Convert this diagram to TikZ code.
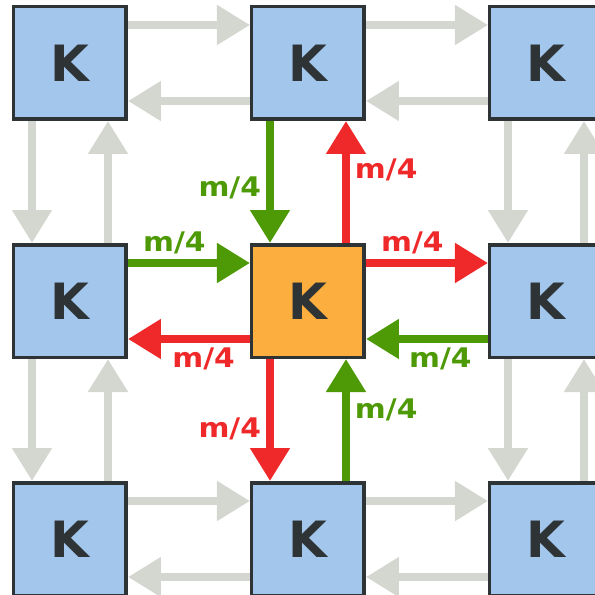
\documentclass[tikz,border=0pt]{standalone}
\usepackage{fontspec}
\setmainfont{DejaVu Sans}
\newfontfamily\rateFont{DejaVu Sans}[FakeStretch=1.1]
\usepackage{tikz}
\usetikzlibrary{arrows.meta, positioning}

\definecolor{kblue}{RGB}{163,198,236}
\definecolor{korange}{RGB}{252,175,62}
\definecolor{kdark}{RGB}{46,52,54}
\definecolor{kgreen}{RGB}{78,154,6}
\definecolor{kred}{RGB}{239,41,41}
\definecolor{kgrey}{RGB}{211,215,207}

\begin{document}
\begin{tikzpicture}[>={Triangle[length=33pt,width=38pt]}, node distance=122pt,
        kbox/.style={rectangle, draw=kdark, line width=3.5pt, fill=kblue, minimum size=112.5pt, inner sep=0pt, text=kdark, font=\fontsize{50}{50}\selectfont\bfseries},
        kcentre/.style={kbox, fill=korange},
        gridflow/.style={->, line width=8pt, kgrey},
        inflow/.style={->, line width=8pt, kgreen},
        outflow/.style={->, line width=8pt, kred},
        rate/.style={font=\rateFont\bfseries\fontsize{27}{27}\selectfont, inner sep=1pt}]

        \useasboundingbox (-308pt,-294pt) rectangle (287pt,301pt);

        % Centre node
        \node[kcentre] (kc) {K};

        % Neighbour nodes
        \node[kbox, above=of kc] (kn) {K};
        \node[kbox, below=of kc] (ks) {K};
        \node[kbox, left=of kc] (kw) {K};
        \node[kbox, right=of kc] (ke) {K};
        \node[kbox, left=of kn] (knw) {K};
        \node[kbox, right=of kn] (kne) {K};
        \node[kbox, left=of ks] (ksw) {K};
        \node[kbox, right=of ks] (kse) {K};

        % Grey links, rows
        \foreach \a/\b in {knw/kn, kn/kne, ksw/ks, ks/kse} {
            \draw[gridflow] ([yshift=38pt]\a.east) -- ([yshift=38pt]\b.west);
            \draw[gridflow] ([yshift=-38pt]\b.west) -- ([yshift=-38pt]\a.east);
        }

        % Grey links, columns
        \foreach \a/\b in {knw/kw, kw/ksw, kne/ke, ke/kse} {
            \draw[gridflow] ([xshift=-38pt]\a.south) -- ([xshift=-38pt]\b.north);
            \draw[gridflow] ([xshift=38pt]\b.north) -- ([xshift=38pt]\a.south);
        }

        % Incoming links
        \draw[inflow] ([xshift=-38pt]kn.south) -- ([xshift=-38pt]kc.north) node[rate, pos=0.55, left=4pt] {m/4};
        \draw[inflow] ([yshift=38pt]kw.east) -- ([yshift=38pt]kc.west) node[rate, pos=0.38, above=4pt] {m/4};
        \draw[inflow] ([yshift=-38pt]ke.west) -- ([yshift=-38pt]kc.east) node[rate, pos=0.39, below=4pt] {m/4};
        \draw[inflow] ([xshift=38pt]ks.north) -- ([xshift=38pt]kc.south) node[rate, pos=0.58, right=4pt] {m/4};

        % Outgoing links
        \draw[outflow] ([xshift=38pt]kc.north) -- ([xshift=38pt]kn.south) node[rate, pos=0.6, right=4pt] {m/4};
        \draw[outflow] ([yshift=38pt]kc.east) -- ([yshift=38pt]ke.west) node[rate, pos=0.38, above=4pt] {m/4};
        \draw[outflow] ([yshift=-38pt]kc.west) -- ([yshift=-38pt]kw.east) node[rate, pos=0.38, below=4pt] {m/4};
        \draw[outflow] ([xshift=-38pt]kc.south) -- ([xshift=-38pt]ks.north) node[rate, pos=0.57, left=4pt] {m/4};

    \end{tikzpicture}
\end{document}
